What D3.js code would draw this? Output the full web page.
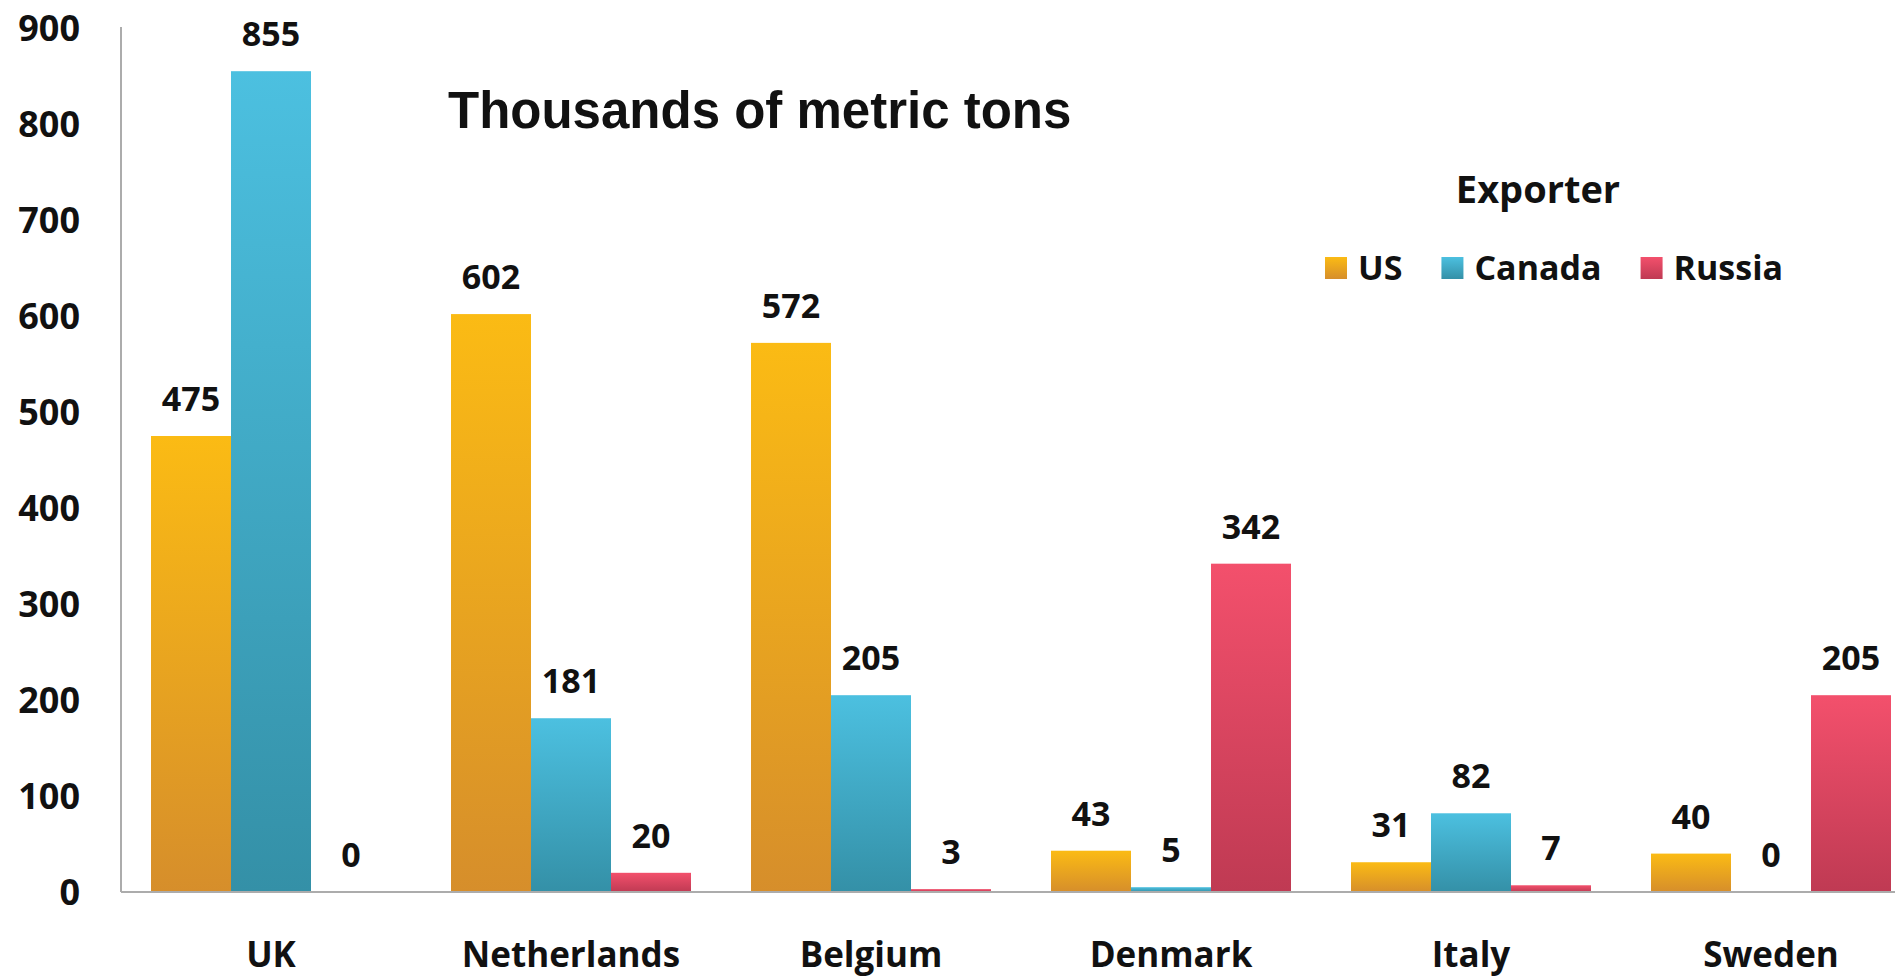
<!DOCTYPE html>
<html>
<head>
<meta charset="utf-8">
<script src="https://cdn.jsdelivr.net/npm/d3@7"></script>
<style>
  html, body { margin: 0; padding: 0; background: #ffffff; }
  svg { display: block; }
  text { font-family: "Open Sans", "DejaVu Sans", sans-serif; font-weight: 700; fill: #111; }
  text.title { font-family: "Liberation Sans", Arial, sans-serif; font-weight: 700; }
</style>
</head>
<body>
<svg id="chart" width="1895" height="979"></svg>
<script>
// Importing countries and exporter series (thousands of metric tons)
const countries = ["UK", "Netherlands", "Belgium", "Denmark", "Italy", "Sweden"];
const exporters = ["US", "Canada", "Russia"];
const usValues     = [475, 602, 572, 43, 31, 40];
const canadaValues = [855, 181, 205, 5, 82, 0];
const russiaValues = [0, 20, 3, 342, 7, 205];
const yTicks = [0, 100, 200, 300, 400, 500, 600, 700, 800, 900];

const seriesValues = { US: usValues, Canada: canadaValues, Russia: russiaValues };

// top / bottom gradient stops for each exporter
const palette = {
  US:     ["#FBBB14", "#D68E2B"],
  Canada: ["#4CC0E0", "#3490A7"],
  Russia: ["#F3506C", "#BF3A53"]
};

const svg = d3.select("#chart");
const W = 1895, H = 979;
const plotLeft = 121, plotBottom = 892, plotTop = 28;

const x0 = d3.scaleBand()
  .domain(countries)
  .range([plotLeft, plotLeft + 1800])
  .paddingInner(0.2)
  .paddingOuter(0.1);

const x1 = d3.scaleBand()
  .domain(exporters)
  .range([0, x0.bandwidth()])
  .padding(0);

const y = d3.scaleLinear().domain([0, 900]).range([plotBottom, plotTop]);

// vertical gradients, one per exporter, applied per bar
const defs = svg.append("defs");
exporters.forEach(name => {
  const g = defs.append("linearGradient")
    .attr("id", "grad-" + name)
    .attr("x1", 0).attr("y1", 0).attr("x2", 0).attr("y2", 1);
  g.append("stop").attr("offset", "0%").attr("stop-color", palette[name][0]);
  g.append("stop").attr("offset", "100%").attr("stop-color", palette[name][1]);
});

// y axis (labels only, plus the axis line)
const yAxis = d3.axisLeft(y).tickValues(yTicks).tickSize(0).tickPadding(0);
const yG = svg.append("g").attr("transform", `translate(80,0)`).call(yAxis);
yG.select(".domain").remove();
yG.selectAll("text")
  .style("font-size", "36px")
  .style("font-family", "'Open Sans', sans-serif")
  .style("font-weight", 700)
  .style("fill", "#111")
  .attr("dy", "0.34em");

svg.append("line")
  .attr("x1", plotLeft).attr("x2", plotLeft)
  .attr("y1", plotTop - 1).attr("y2", plotBottom)
  .attr("stroke", "#acacac").attr("stroke-width", 2);

// grouped bars
const rows = countries.map((c, i) => ({
  country: c,
  values: exporters.map(e => ({ exporter: e, value: seriesValues[e][i] }))
}));

const groups = svg.append("g").selectAll("g")
  .data(rows)
  .join("g")
  .attr("transform", d => `translate(${x0(d.country)},0)`);

groups.selectAll("rect")
  .data(d => d.values)
  .join("rect")
  .attr("x", d => x1(d.exporter))
  .attr("y", d => y(d.value))
  .attr("width", x1.bandwidth())
  .attr("height", d => plotBottom - y(d.value))
  .attr("fill", d => `url(#grad-${d.exporter})`);

// value labels above each bar
groups.selectAll("text.val")
  .data(d => d.values)
  .join("text")
  .attr("class", "val")
  .attr("x", d => x1(d.exporter) + x1.bandwidth() / 2)
  .attr("y", d => y(d.value) - 25)
  .attr("text-anchor", "middle")
  .style("font-size", "34px")
  .text(d => d.value);

// x axis line and category labels
svg.append("line")
  .attr("x1", plotLeft).attr("x2", W)
  .attr("y1", plotBottom).attr("y2", plotBottom)
  .attr("stroke", "#acacac").attr("stroke-width", 2);

const xAxis = d3.axisBottom(x0).tickSize(0).tickPadding(0);
const xG = svg.append("g").attr("transform", `translate(0,967)`).call(xAxis);
xG.select(".domain").remove();
xG.selectAll("text")
  .style("font-size", "35px")
  .style("font-family", "'Open Sans', sans-serif")
  .style("font-weight", 700)
  .style("fill", "#111")
  .attr("dy", 0);

// chart title
svg.append("text")
  .attr("class", "title")
  .attr("x", 448).attr("y", 128)
  .style("font-size", "51px")
  .text("Thousands of metric tons");

// legend
svg.append("text")
  .attr("x", 1538).attr("y", 203)
  .attr("text-anchor", "middle")
  .style("font-size", "38px")
  .text("Exporter");

let lx = 1325;
exporters.forEach(name => {
  svg.append("rect")
    .attr("x", lx).attr("y", 257)
    .attr("width", 22).attr("height", 22)
    .attr("fill", `url(#grad-${name})`);
  const t = svg.append("text")
    .attr("x", lx + 33).attr("y", 280)
    .style("font-size", "34px")
    .text(name);
  lx = lx + 33 + t.node().getComputedTextLength() + 39;
});
</script>
</body>
</html>
